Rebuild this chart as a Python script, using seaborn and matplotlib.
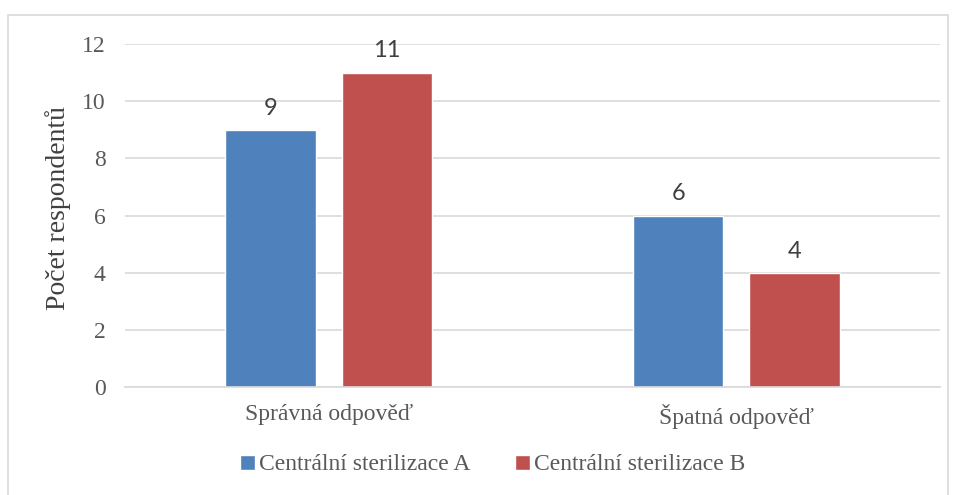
import pandas as pd
import matplotlib.pyplot as plt
import seaborn as sns
from matplotlib.patches import Rectangle

# Data
categories = ['Správná odpověď', 'Špatná odpověď']
series = ['Centrální sterilizace A', 'Centrální sterilizace B']
values_a = [9, 6]
values_b = [11, 4]
colors = ['#4F81BD', '#C0504D']

df = pd.DataFrame({
    'Odpověď': categories * 2,
    'Skupina': [series[0]] * 2 + [series[1]] * 2,
    'Počet': values_a + values_b,
})

sns.set_theme(style='white')
plt.rcParams['font.family'] = ['Liberation Serif', 'DejaVu Serif']

fig = plt.figure(figsize=(9.56, 4.95), dpi=100)
ax = fig.add_axes([125 / 956, 1 - 387 / 495, 815 / 956, (387 - 44) / 495])

sns.barplot(data=df, x='Odpověď', y='Počet', hue='Skupina', palette=colors,
            width=0.57, gap=0.22, saturation=1, ax=ax, legend=True)

ax.set_xlim(-0.5, 1.5)
ax.set_ylim(0, 12)
ax.set_yticks(range(0, 13, 2))
ax.yaxis.grid(True, color='#D9D9D9', linewidth=1.2)
ax.set_axisbelow(True)
for s in ['top', 'right', 'left']:
    ax.spines[s].set_visible(False)
ax.spines['bottom'].set_color('#D9D9D9')
ax.spines['bottom'].set_linewidth(1.2)
ax.tick_params(axis='x', length=0, labelsize=17, colors='#595959', pad=12)
ax.tick_params(axis='y', length=0, labelsize=17, colors='#595959', pad=14)
for lbl in ax.get_xticklabels() + ax.get_yticklabels():
    lbl.set_fontfamily(['Liberation Serif', 'DejaVu Serif'])
ax.set_xlabel('')
ax.set_ylabel('Počet respondentů', fontsize=20, color='#404040')
ax.yaxis.set_label_coords(-0.066, 0.522)

# value labels
for cont in ax.containers:
    ax.bar_label(cont, padding=8, fontsize=17, color='#404040',
                 family=['Lato', 'DejaVu Sans'])

# legend at bottom
handles, labels = ax.get_legend_handles_labels()
ax.legend(handles, labels, loc='center', bbox_to_anchor=(493 / 956, 1 - 465 / 495),
          bbox_transform=fig.transFigure, ncol=2, frameon=False, fontsize=17,
          handlelength=0.6, handleheight=0.6, handletextpad=0.2, columnspacing=1.9,
          labelcolor='#595959')

# chart border
fig.patches.append(Rectangle((8 / 956, -0.01), 940 / 956, 1 - 15 / 495 + 0.01,
                             transform=fig.transFigure, fill=False,
                             edgecolor='#D9D9D9', linewidth=1.2))

fig.savefig('out.png', dpi=100)
